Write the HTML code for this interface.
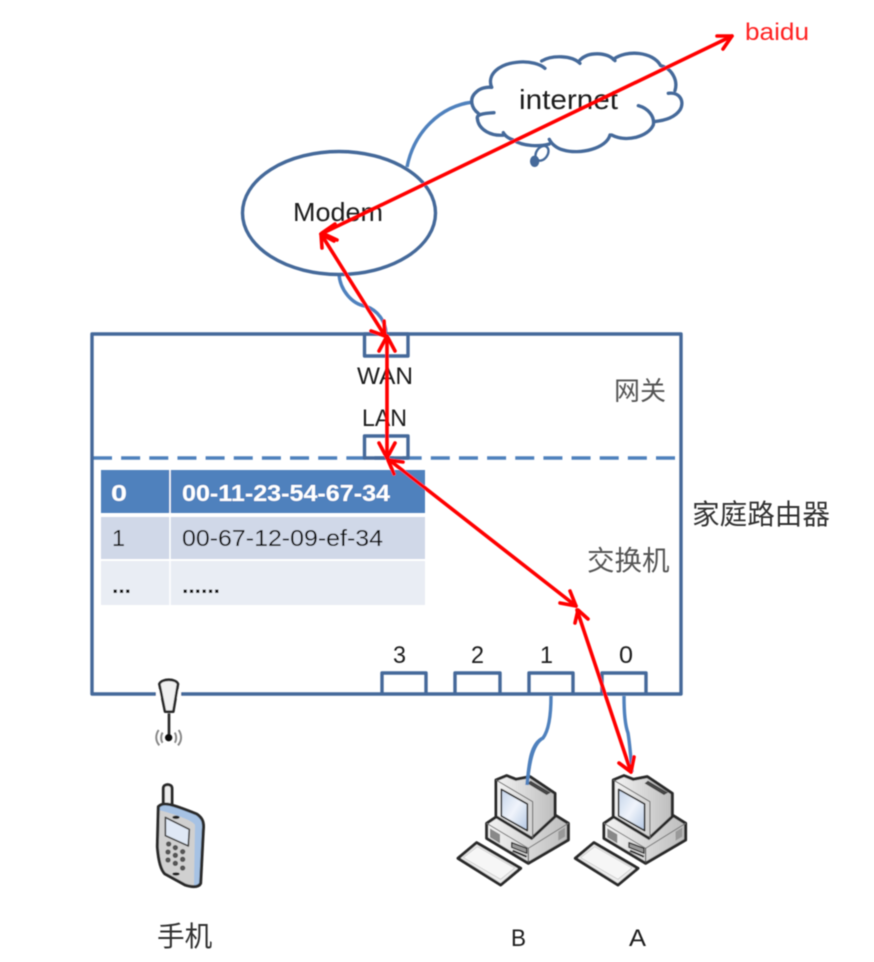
<!DOCTYPE html>
<html>
<head>
<meta charset="utf-8">
<style>
html,body{margin:0;padding:0;background:#fff;}
svg{display:block;}
text{font-family:"Liberation Sans","Noto Sans CJK SC",sans-serif;}
</style>
</head>
<body>
<svg width="874" height="962" viewBox="0 0 874 962" xmlns="http://www.w3.org/2000/svg">
<defs>
<filter id="b" x="-5%" y="-5%" width="110%" height="110%"><feGaussianBlur stdDeviation="0.5"/></filter>
<linearGradient id="mon" x1="0" y1="0" x2="1" y2="0"><stop offset="0" stop-color="#f4f4f4"/><stop offset="1" stop-color="#bdbdbd"/></linearGradient>
<linearGradient id="scr" x1="0" y1="0" x2="1" y2="1"><stop offset="0" stop-color="#c4d4ea"/><stop offset=".5" stop-color="#f0f4fb"/><stop offset="1" stop-color="#b4c8e4"/></linearGradient>
<g id="pc" stroke-linejoin="round">
  <path d="M54 595L110 548L242 625L182 675Z" fill="#ececec" stroke="#2a2a2a" stroke-width="9"/>
  <path d="M70 593L112 560L224 624L182 658Z" fill="#f6f6f6" stroke="#c4c4c4" stroke-width="2"/>
  <path d="M140 490L170 470L345 465L385 490V540L265 610L140 535Z" fill="url(#mon)" stroke="#2a2a2a" stroke-width="9"/>
  <path d="M140 490L265 565L385 490" fill="none" stroke="#777" stroke-width="3"/>
  <path d="M265 565V610" stroke="#444" stroke-width="3"/>
  <path d="M150 505L180 523V550L150 532Z" fill="#888"/>
  <path d="M215 548L260 565V580L215 562Z" fill="#999" stroke="#2a2a2a" stroke-width="4"/>
  <path d="M218 572L260 590" stroke="#2a2a2a" stroke-width="6"/>
  <path d="M355 515L375 503V530L355 542Z" fill="#999"/>
  <path d="M168 360L200 347L228 358L270 350L345 400V470L275 535L168 470Z" fill="url(#mon)" stroke="#2a2a2a" stroke-width="9"/>
  <path d="M272 362L332 398L320 405L262 370Z" fill="#444"/>
  <path d="M168 360L278 425V535" fill="none" stroke="#666" stroke-width="3"/>
  <path d="M184 388L262 432V512L184 468Z" fill="url(#scr)" stroke="#2a2a2a" stroke-width="5"/>
</g>
</defs>

<g filter="url(#b)">
<!-- connectors (blue) -->
<g fill="none" stroke="#4f81bd" stroke-width="3.400">
  <path d="M407 167C414 132 440 106 473 102"/>
  <path d="M339 274C340 290 352 304 365 306C378 310 386 322 386 334"/>
  <path d="M551 696C551 715 549 730 543 738C530 744 529 765 527 785"/>
  <path d="M624 696C624 712 625 725 628 733C630 745 631 760 632 772"/>
  <path d="M93 458H681" stroke-dasharray="19 9.150"/>
</g>

<!-- cloud -->
<g transform="translate(230,0) scale(.3333)" fill="none" stroke="#44699a" stroke-width="10" stroke-linecap="round" stroke-linejoin="round">
  <path d="M785 262C770 225 805 190 870 186C900 184 930 192 945 205"/>
  <path d="M935 183C965 165 1025 165 1050 190"/>
  <path d="M1050 180C1075 155 1130 155 1155 182"/>
  <path d="M1150 178C1190 148 1270 155 1292 197C1325 205 1345 240 1335 272"/>
  <path d="M1315 280C1350 275 1365 305 1350 330C1335 352 1305 362 1272 365"/>
  <path d="M1225 317C1255 325 1275 350 1270 375C1255 410 1190 428 1145 405"/>
  <path d="M1140 405C1130 445 1050 465 1000 450C980 445 965 432 958 418"/>
  <path d="M958 432C930 440 880 440 850 420C835 415 825 408 820 398"/>
  <path d="M825 405C785 410 745 390 742 355C740 345 755 340 792 338"/>
  <path d="M745 340C725 325 715 295 740 275C750 265 770 260 785 262"/>
  <ellipse cx="936" cy="460" rx="17" ry="24" transform="rotate(35 936 460)" stroke-width="7"/>
  <ellipse cx="914" cy="484" rx="14" ry="17" fill="#44699a" stroke="none"/>
</g>

<!-- modem -->
<ellipse cx="339" cy="213" rx="96.500" ry="61.500" fill="none" stroke="#44699a" stroke-width="3.400"/>

<!-- router box -->
<rect x="92" y="334" width="589" height="360" fill="none" stroke="#44699a" stroke-width="3.400" stroke-linejoin="round"/>
<g fill="none" stroke="#44699a" stroke-width="3.400" stroke-linejoin="round">
  <rect x="364.500" y="334" width="43.500" height="22"/>
  <rect x="364.500" y="436" width="43.500" height="22"/>
  <path d="M382 694V673H426V694"/>
  <path d="M455 694V673H500V694"/>
  <path d="M529 694V673H573V694"/>
  <path d="M602 694V673H646V694"/>
</g>

<!-- table -->
<rect x="101" y="470" width="324" height="43" fill="#4f81bd"/>
<rect x="101" y="517" width="324" height="42" fill="#d0d8e8"/>
<rect x="101" y="561" width="324" height="44" fill="#e9edf4"/>
<path d="M170 470V605" stroke="#fff" stroke-width="1.500"/>

<g fill="#fff" font-weight="bold" font-size="23">
  <text x="111" y="501" textLength="16" lengthAdjust="spacingAndGlyphs">0</text>
  <text x="182" y="501" textLength="208" lengthAdjust="spacingAndGlyphs">00-11-23-54-67-34</text>
</g>
<g fill="#111" font-size="23">
  <text x="112" y="546" textLength="13" lengthAdjust="spacingAndGlyphs">1</text>
  <text x="182" y="546" textLength="201" lengthAdjust="spacingAndGlyphs">00-67-12-09-ef-34</text>
  <text x="112" y="593" textLength="19" lengthAdjust="spacingAndGlyphs" font-weight="bold">...</text>
  <text x="182" y="593" textLength="38" lengthAdjust="spacingAndGlyphs" font-weight="bold">......</text>
</g>

<!-- labels -->
<g fill="#1c1c1c" font-size="24">
  <text x="519" y="109" font-size="28" textLength="99" lengthAdjust="spacingAndGlyphs">internet</text>
  <text x="293" y="221" font-size="26" textLength="90" lengthAdjust="spacingAndGlyphs">Modem</text>
  <text x="357" y="384" textLength="56" lengthAdjust="spacingAndGlyphs">WAN</text>
  <text x="362" y="426" textLength="45" lengthAdjust="spacingAndGlyphs">LAN</text>
  <text x="393" y="663" textLength="13" lengthAdjust="spacingAndGlyphs">3</text>
  <text x="471" y="663" textLength="13" lengthAdjust="spacingAndGlyphs">2</text>
  <text x="540" y="663" textLength="13" lengthAdjust="spacingAndGlyphs">1</text>
  <text x="619" y="663" textLength="14" lengthAdjust="spacingAndGlyphs">0</text>
  <text x="511" y="946" textLength="15" lengthAdjust="spacingAndGlyphs">B</text>
  <text x="629" y="946" textLength="17" lengthAdjust="spacingAndGlyphs">A</text>
</g>
<g fill="#555" font-size="26">
  <text x="614" y="400">网关</text>
  <text x="587" y="570" font-size="27.500">交换机</text>
</g>
<g fill="#333" font-size="27.600">
  <text x="692" y="524">家庭路由器</text>
  <text x="157" y="946">手机</text>
</g>
<text x="745" y="40" fill="#ff2020" font-size="24" textLength="64" lengthAdjust="spacingAndGlyphs">baidu</text>

<!-- antenna -->
<rect x="156" y="690" width="25" height="8" fill="#fff"/>
<g transform="translate(130,670) scale(.3333)" stroke-linejoin="round">
  <path d="M88 42C95 25 138 25 144 42L130 125H105Z" fill="#f0f0f0" stroke="#2a2a2a" stroke-width="8"/>
  <path d="M117 130V200" stroke="#2a2a2a" stroke-width="8"/>
  <circle cx="116" cy="203" r="11" fill="#111"/>
  <g fill="none" stroke="#888" stroke-width="6">
    <path d="M98 188C92 196 92 212 98 218"/><path d="M86 180C76 195 76 212 88 226"/>
    <path d="M134 188C140 196 140 212 134 218"/><path d="M146 180C156 195 156 212 144 226"/>
  </g>
  <!-- phone -->
  <path d="M100 405V355C100 340 126 340 126 355V405Z" fill="#eee" stroke="#2a2a2a" stroke-width="9"/>
  <path d="M85 410C100 395 120 400 200 432C220 445 222 460 220 480L212 640C205 655 180 650 165 645L105 612C92 600 85 570 82 530Z" fill="#d0d0d0"/>
  <path d="M85 410C100 395 120 400 200 432C220 445 222 460 220 480L212 640C205 650 198 650 192 648L195 465C190 450 110 425 85 420Z" fill="#a6c2e4"/>
  <path d="M85 410C100 395 120 400 200 432C220 445 222 460 220 480L212 640C205 655 180 650 165 645L105 612C92 600 85 570 82 530Z" fill="none" stroke="#2a2a2a" stroke-width="9"/>
  <path d="M106 442L178 478L175 528L106 497Z" fill="#dfe8f5" stroke="#444" stroke-width="5"/>
  <ellipse cx="138" cy="442" rx="11" ry="5" fill="#222"/>
  <ellipse cx="138" cy="612" rx="11" ry="5" fill="#222"/>
  <g fill="#555">
    <circle cx="116" cy="522" r="8"/><circle cx="136" cy="533" r="8"/><circle cx="158" cy="545" r="8"/>
    <circle cx="114" cy="546" r="8"/><circle cx="136" cy="556" r="8"/><circle cx="158" cy="568" r="8"/>
    <circle cx="114" cy="570" r="8"/><circle cx="136" cy="580" r="8"/><circle cx="158" cy="594" r="8"/>
  </g>
</g>

<!-- computers -->
<use href="#pc" transform="translate(440,660) scale(.3333)"/>
<use href="#pc" transform="translate(557.300,660) scale(.3333)"/>
<path d="M543 738C532 744 529 765 527 785" fill="none" stroke="#4f81bd" stroke-width="3.400"/>

<!-- red arrows -->
<g fill="none" stroke="#ff0000" stroke-width="3.600" stroke-linecap="round" stroke-linejoin="round">
  <path d="M321 234L732 36"/>
  <path d="M717 36L732 36L723 49"/>
  <path d="M335 224L322 233L337 240"/>
  <path d="M321 234L385 336"/>
  <path d="M322 248L321 234L334 241"/>
  <path d="M371 331L385 336L384 321"/>
  <path d="M387 336V458"/>
  <path d="M379 351L387 336L395 351"/>
  <path d="M379 443L387 458L395 443"/>
  <path d="M388 459L576 606"/>
  <path d="M394 474L388 460L403 462"/>
  <path d="M560 603L576 606L570 591"/>
  <path d="M577 610L631 772"/>
  <path d="M575 623L578 610L588 619"/>
  <path d="M619 763L631 772L634 757"/>
</g>
</g>
</svg>
</body>
</html>
